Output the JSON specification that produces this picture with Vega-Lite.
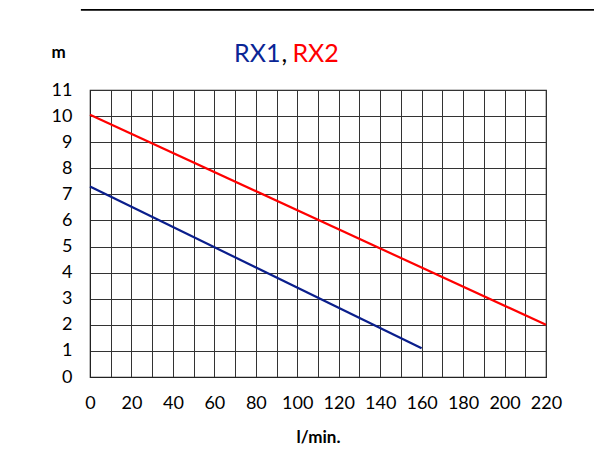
{
  "$schema": "https://vega.github.io/schema/vega-lite/v6.json",
  "autosize": "none",
  "width": 456,
  "height": 287,
  "padding": {"left": 90, "top": 90, "right": 48, "bottom": 91},
  "background": "white",
  "config": {
    "font": "Lato",
    "view": {"stroke": "#222", "strokeWidth": 1.2},
    "axis": {
      "labelFont": "Lato",
      "labelFontSize": 18,
      "labelColor": "#000",
      "ticks": false,
      "domainColor": "#222",
      "gridColor": "#333",
      "gridOpacity": 1,
      "gridWidth": 1,
      "titleFont": "Lato",
      "titleFontSize": 17,
      "titleFontWeight": "bold",
      "titleColor": "#000",
      "labelOverlap": false,
      "labelFlush": false
    }
  },
  "datasets": {
    "curves": [
      {"series": "RX1", "flow": 0, "head": 7.3},
      {"series": "RX1", "flow": 160, "head": 1.1},
      {"series": "RX2", "flow": 0, "head": 10.05},
      {"series": "RX2", "flow": 220, "head": 2.0}
    ]
  },
  "resolve": {"axis": {"x": "independent", "y": "independent"}},
  "layer": [
    {
      "data": {"name": "curves"},
      "mark": {"type": "line", "strokeWidth": 2.2},
      "encoding": {
        "x": {
          "field": "flow",
          "type": "quantitative",
          "scale": {"domain": [0, 220], "nice": false},
          "axis": {
            "values": [0,10,20,30,40,50,60,70,80,90,100,110,120,130,140,150,160,170,180,190,200,210,220],
            "labelExpr": "datum.value % 20 === 0 ? datum.label : ''",
            "labelPadding": 17,
            "title": "l/min.",
            "titleY": 52,
            "grid": true
          }
        },
        "y": {
          "field": "head",
          "type": "quantitative",
          "scale": {"domain": [0, 11], "nice": false},
          "axis": {
            "values": [0,1,2,3,4,5,6,7,8,9,10,11],
            "labelPadding": 18,
            "title": "m",
            "titleAngle": 0,
            "titleX": -32,
            "titleY": -38,
            "titleAlign": "center",
            "titleBaseline": "middle",
            "grid": true
          }
        },
        "color": {
          "field": "series",
          "type": "nominal",
          "scale": {"domain": ["RX1", "RX2"], "range": ["#0a1e8c", "#ff0000"]},
          "legend": null
        },
        "detail": {"field": "series"}
      }
    },
    {
      "data": {"values": [{"label": "RX1"}]},
      "mark": {"type": "text", "font": "Lato", "fontSize": 25, "align": "right", "baseline": "middle", "color": "#0a2595", "clip": false, "dx": -4},
      "encoding": {
        "text": {"field": "label"},
        "x": {"datum": 93.8, "type": "quantitative", "axis": null},
        "y": {"datum": 12.38, "type": "quantitative", "axis": null}
      }
    },
    {
      "data": {"values": [{"label": ","}]},
      "mark": {"type": "text", "font": "Lato", "fontSize": 25, "align": "center", "baseline": "middle", "color": "#000", "clip": false},
      "encoding": {
        "text": {"field": "label"},
        "x": {"datum": 93.8, "type": "quantitative", "axis": null},
        "y": {"datum": 12.38, "type": "quantitative", "axis": null}
      }
    },
    {
      "data": {"values": [{"label": "RX2"}]},
      "mark": {"type": "text", "font": "Lato", "fontSize": 25, "align": "left", "baseline": "middle", "color": "#ff0000", "clip": false, "dx": 8},
      "encoding": {
        "text": {"field": "label"},
        "x": {"datum": 93.8, "type": "quantitative", "axis": null},
        "y": {"datum": 12.38, "type": "quantitative", "axis": null}
      }
    },
    {
      "data": {"values": [{}]},
      "mark": {"type": "rule", "stroke": "#000", "strokeWidth": 1.6, "clip": false},
      "encoding": {
        "x": {"datum": -4.4, "type": "quantitative", "axis": null},
        "x2": {"datum": 300},
        "y": {"datum": 14.07, "type": "quantitative", "axis": null}
      }
    }
  ]
}
